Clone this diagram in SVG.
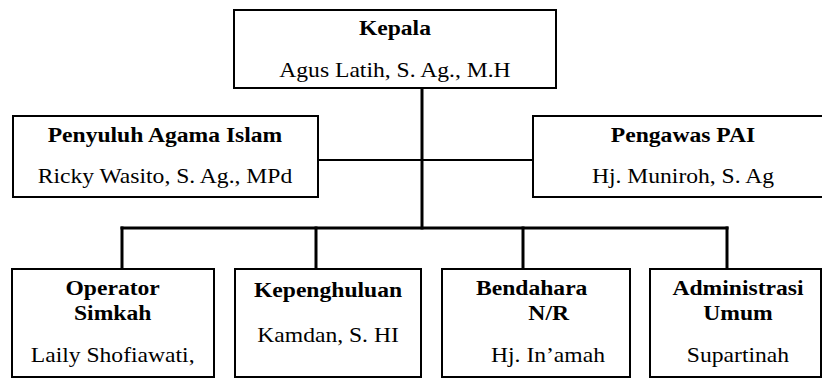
<svg xmlns="http://www.w3.org/2000/svg" width="822" height="378" viewBox="0 0 822 378">
<style>
.box{fill:#fff;stroke:#000;stroke-width:2}
.t{font-family:"Liberation Serif","Times New Roman",serif;font-size:20px;fill:#000;text-anchor:middle}
.b{font-weight:bold}
.c{stroke:#000;fill:none;stroke-linecap:square}
</style>
<rect width="822" height="378" fill="#fff"/>
<g id="connectors">
<line class="c" x1="422" y1="88" x2="422" y2="228" stroke-width="3"/>
<line class="c" x1="318" y1="160" x2="533" y2="160" stroke-width="2"/>
<line class="c" x1="122" y1="228" x2="727" y2="228" stroke-width="3"/>
<line class="c" x1="122" y1="228" x2="122" y2="269" stroke-width="3"/>
<line class="c" x1="316" y1="228" x2="316" y2="269" stroke-width="3"/>
<line class="c" x1="523" y1="228" x2="523" y2="269" stroke-width="3"/>
<line class="c" x1="727" y1="228" x2="727" y2="269" stroke-width="3"/>
</g>
<g id="kepala">
<rect class="box" x="234" y="10" width="322" height="78"/>
<g transform="scale(1.18 1)">
<text class="t b" x="334.7" y="35">Kepala</text>
<text class="t" x="334.7" y="77">Agus Latih, S. Ag., M.H</text>
</g>
</g>
<g id="penyuluh">
<rect class="box" x="13" y="116" width="305" height="81"/>
<g transform="scale(1.18 1)">
<text class="t b" x="139.8" y="142">Penyuluh Agama Islam</text>
<text class="t" x="139.8" y="183">Ricky Wasito, S. Ag., MPd</text>
</g>
</g>
<g id="pengawas">
<rect class="box" x="533" y="116" width="300" height="81"/>
<g transform="scale(1.18 1)">
<text class="t b" x="578.8" y="142">Pengawas PAI</text>
<text class="t" x="578.8" y="183">Hj. Muniroh, S. Ag</text>
</g>
</g>
<g id="operator">
<rect class="box" x="12" y="269" width="202" height="108"/>
<g transform="scale(1.18 1)">
<text class="t b" x="95.5" y="295">Operator</text>
<text class="t b" x="95.5" y="320">Simkah</text>
<text class="t" x="95.5" y="362">Laily Shofiawati,</text>
</g>
</g>
<g id="kepenghuluan">
<rect class="box" x="235" y="269" width="186" height="108"/>
<g transform="scale(1.18 1)">
<text class="t b" x="278" y="297">Kepenghuluan</text>
<text class="t" x="278" y="342">Kamdan, S. HI</text>
</g>
</g>
<g id="bendahara">
<rect class="box" x="442" y="269" width="188" height="108"/>
<g transform="scale(1.18 1)">
<text class="t b" x="450.6" y="295">Bendahara</text>
<text class="t b" x="465" y="320">N/R</text>
<text class="t" x="464.4" y="362">Hj. In’amah</text>
</g>
</g>
<g id="administrasi">
<rect class="box" x="650" y="269" width="171" height="108"/>
<g transform="scale(1.18 1)">
<text class="t b" x="625.4" y="295">Administrasi</text>
<text class="t b" x="625.4" y="320">Umum</text>
<text class="t" x="625.4" y="362">Supartinah</text>
</g>
</g>
</svg>
